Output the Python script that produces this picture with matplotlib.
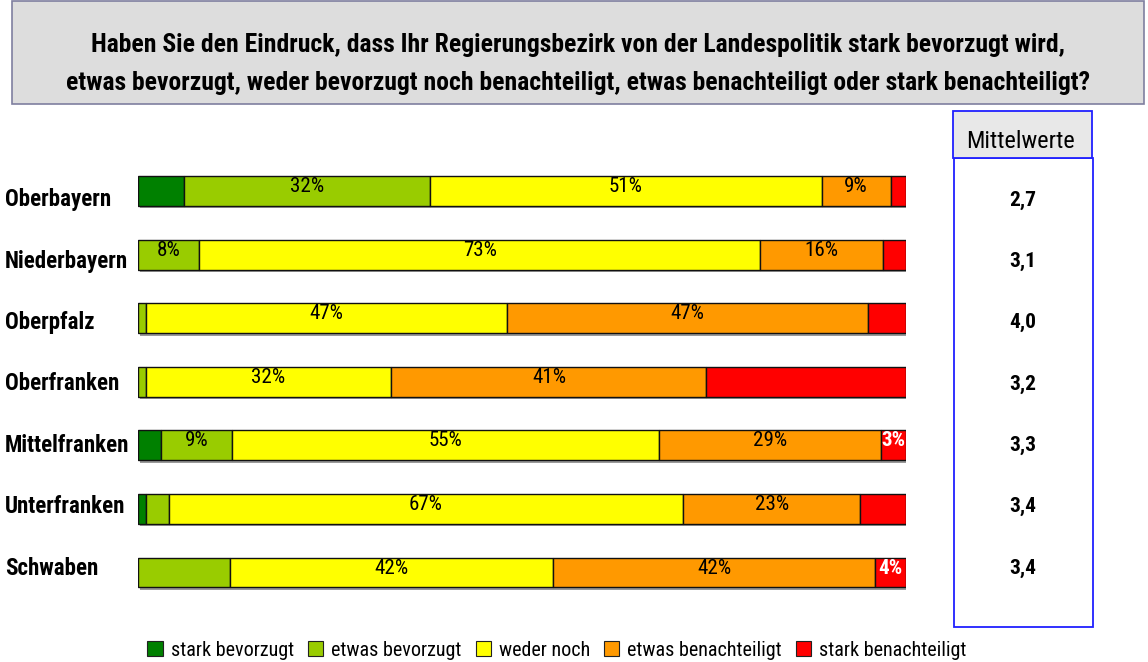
import matplotlib
matplotlib.use("Agg")
import matplotlib.pyplot as plt
from matplotlib.patches import Rectangle, Patch
from matplotlib import font_manager as fm
import numpy as np

title_lines = [
    "Haben Sie den Eindruck, dass Ihr Regierungsbezirk von der Landespolitik stark bevorzugt wird,",
    "etwas bevorzugt, weder bevorzugt noch benachteiligt, etwas benachteiligt oder stark benachteiligt?",
]
categories = ["Oberbayern", "Niederbayern", "Oberpfalz", "Oberfranken",
              "Mittelfranken", "Unterfranken", "Schwaben"]
series_names = ["stark bevorzugt", "etwas bevorzugt", "weder noch",
                "etwas benachteiligt", "stark benachteiligt"]
colors = ["#008000", "#99CC00", "#FFFF00", "#FF9900", "#FF0000"]

stark_bevorzugt = [6, 0, 0, 0, 3, 1, 0]
etwas_bevorzugt = [32, 8, 1, 1, 9.2, 3, 12]
weder_noch = [51, 73, 47, 32, 55.6, 67, 42]
etwas_benachteiligt = [9, 16, 47, 41, 29, 23, 42]
stark_benachteiligt = [2, 3, 5, 26, 3.2, 6, 4]

# which segment values are printed inside the bars
labels_stark_bevorzugt = ["", "", "", "", "", "", ""]
labels_etwas_bevorzugt = ["32%", "8%", "", "", "9%", "", ""]
labels_weder_noch = ["51%", "73%", "47%", "32%", "55%", "67%", "42%"]
labels_etwas_benachteiligt = ["9%", "16%", "47%", "41%", "29%", "23%", "42%"]
labels_stark_benachteiligt = ["", "", "", "", "3%", "", "4%"]

mittelwerte = ["2,7", "3,1", "4,0", "3,2", "3,3", "3,4", "3,4"]
mittel_header = "Mittelwerte"

series = [stark_bevorzugt, etwas_bevorzugt, weder_noch, etwas_benachteiligt, stark_benachteiligt]
series_labels = [labels_stark_bevorzugt, labels_etwas_bevorzugt, labels_weder_noch,
                 labels_etwas_benachteiligt, labels_stark_benachteiligt]

# ---- font choice: prefer a narrow face, fall back to Liberation Sans
names = {f.name for f in fm.fontManager.ttflist}
FONT = {"family": ["Liberation Sans", "DejaVu Sans"]}
for cand in ["Liberation Sans Narrow", "Arial Narrow", "Roboto Condensed",
             "Open Sans Condensed"]:
    if cand in names:
        FONT = {"family": [cand, "DejaVu Sans"]}
        break

W, H = 1148, 662
fig = plt.figure(figsize=(W / 100, H / 100), dpi=100)
fig.patch.set_facecolor("white")
renderer = fig.canvas.get_renderer()


def fx(px):
    return px / W


def fy(py):
    return 1 - py / H


def fit(t, target_px):
    for _ in range(3):
        w = t.get_window_extent(renderer).width
        t.set_fontsize(t.get_fontsize() * target_px / w)
    return t.get_fontsize()


# Title box
fig.patches.append(Rectangle((fx(12), fy(104)), fx(1144) - fx(12), fy(1) - fy(104),
                             transform=fig.transFigure, facecolor="#DDDDDD",
                             edgecolor="#7F7F9F", linewidth=1.2, zorder=0))
t1 = fig.text(fx(578), fy(45), title_lines[0], ha="center", va="center",
              fontsize=14, fontweight="bold", **FONT)
t2 = fig.text(fx(578), fy(83), title_lines[1], ha="center", va="center",
              fontsize=14, fontweight="bold", **FONT)
s1 = fit(t1, 980)
s2 = fit(t2, 1023)
ts = min(s1, s2)
t1.set_fontsize(ts)
t2.set_fontsize(ts)

# Bar axes
top_px, bot_px = 191 - 31.8, 572.5 + 31.8
ax = fig.add_axes([fx(138), fy(bot_px), fx(906) - fx(138), fy(top_px) - fy(bot_px)])
ax.set_xlim(0, 100)
ax.set_ylim(len(categories) - 0.5, -0.5)
ax.axis("off")

# size for in-bar labels: "32%" is about 34 px wide in the reference
probe = fig.text(0, 0, "32%", fontsize=13, **FONT)
pct_size = fit(probe, 34)
probe.remove()

y = np.arange(len(categories))
bh = 0.47
totals = np.sum(np.array(series, dtype=float), axis=0)
ax.barh(y + 0.04, totals, left=0.3, height=bh, color="#9A9A9A", edgecolor="none", zorder=1)
left = np.zeros(len(categories))
for vals, col, labs in zip(series, colors, series_labels):
    vals = np.array(vals, dtype=float)
    ax.barh(y, vals, left=left, height=bh, color=col, edgecolor="#111111",
            linewidth=1.0, zorder=2)
    for i, (v, lab) in enumerate(zip(vals, labs)):
        if lab:
            white = col == "#FF0000"
            ax.text(left[i] + v / 2, y[i] - 0.07, lab, ha="center", va="center",
                    fontsize=pct_size, color="white" if white else "black",
                    fontweight="bold" if white else "normal", zorder=3, **FONT)
    left += vals

# Label axes (category names and means)
lt, lb = 200 - 30.67, 568 + 30.67
lax = fig.add_axes([0, fy(lb), 1, fy(lt) - fy(lb)])
lax.set_xlim(0, W)
lax.set_ylim(len(categories) - 0.5, -0.5)
lax.axis("off")
lax.patch.set_alpha(0)
cat_texts = []
for i, c in enumerate(categories):
    cat_texts.append(lax.text(5, i, c, ha="left", va="center", fontsize=13,
                              fontweight="bold", **FONT))
cat_size = fit(cat_texts[1], 122)
for t in cat_texts:
    t.set_fontsize(cat_size)
mean_texts = []
for i, m in enumerate(mittelwerte):
    mean_texts.append(lax.text(1023, i, m, ha="center", va="center", fontsize=13,
                               fontweight="bold", **FONT))
mean_size = fit(mean_texts[0], 27)
for t in mean_texts:
    t.set_fontsize(mean_size)

# Mittelwerte box
fig.patches.append(Rectangle((fx(954), fy(627)), fx(1093) - fx(954), fy(158) - fy(627),
                             transform=fig.transFigure, facecolor="none",
                             edgecolor="#2020FF", linewidth=1.3, zorder=0))
fig.patches.append(Rectangle((fx(953), fy(158)), fx(1092) - fx(953), fy(111) - fy(158),
                             transform=fig.transFigure, facecolor="#E8E8E8",
                             edgecolor="#2020FF", linewidth=1.3, zorder=0))
mh = fig.text(fx(1021), fy(141), mittel_header, ha="center", va="center", fontsize=13,
              **FONT)
fit(mh, 109)

# Legend, scaled to span the reference width
handles = [Patch(facecolor=c, edgecolor="#222222", linewidth=0.8) for c in colors]
leg_size = 13
for _ in range(3):
    leg = fig.legend(handles, series_names, loc="center",
                     bbox_to_anchor=(fx(557), fy(650)),
                     ncol=5, frameon=False, handlelength=0.75, handleheight=0.75,
                     handletextpad=0.4, columnspacing=0.7,
                     borderpad=0, borderaxespad=0,
                     prop={"family": FONT["family"], "size": leg_size})
    w = leg.get_window_extent(renderer).width
    leg_size *= 821 / w
    leg.remove()
fig.legend(handles, series_names, loc="center",
           bbox_to_anchor=(fx(557), fy(650)),
           ncol=5, frameon=False, handlelength=0.75, handleheight=0.75,
           handletextpad=0.4, columnspacing=0.7, borderpad=0, borderaxespad=0,
           prop={"family": FONT["family"], "size": leg_size})

fig.savefig("out.png", dpi=100, facecolor="white")
